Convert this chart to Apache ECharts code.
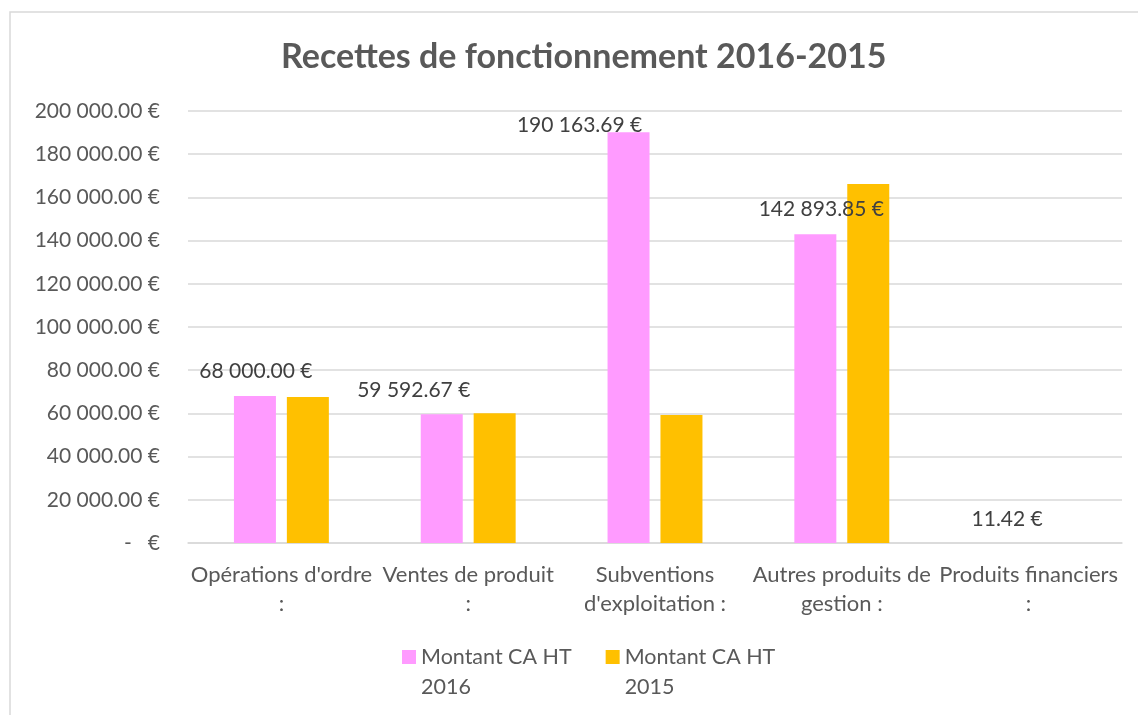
<!DOCTYPE html>
<html>
<head>
<meta charset="utf-8">
<script src="https://cdn.jsdelivr.net/npm/echarts@6/dist/echarts.min.js"></script>
<style>
  html, body { margin: 0; padding: 0; background: #fff; }
  #chart { width: 1138px; height: 715px; }
</style>
</head>
<body>
<div id="chart"></div>

<script>
  // données
  var categories = [
    "Opérations d'ordre\n:",
    "Ventes de produit\n:",
    "Subventions\nd'exploitation :",
    "Autres produits de\ngestion :",
    "Produits financiers\n:"
  ];
  var seriesNames = ["Montant CA HT 2016", "Montant CA HT 2015"];
  var values2016 = [68000.00, 59592.67, 190163.69, 142893.85, 11.42];
  var values2015 = [67600, 60100, 59300, 166200, 0];
  // décalage des étiquettes (déplacées à la main dans l'original)
  var labelOffsets = [[1, -9], [-28, -9], [-49, 8], [6, -10], [5, -8]];

  var App = {};

  App.init = function(){
    var _this = this;
    var font = "Lato";
    var grey = "#595959";

    // format comptable : 200 000.00 €
    _this.F_euro = function(v){
      if (v === 0) return "-   €";
      var s = v.toFixed(2).split(".");
      s[0] = s[0].replace(/\B(?=(\d{3})+(?!\d))/g, " ");
      return s[0] + "." + s[1] + " €";
    };

    _this.F_loadChart = function(){
      var chart = echarts.init(document.getElementById("chart"));

      var data2016 = values2016.map(function(v, i){
        return {
          value: v,
          label: { offset: labelOffsets[i] }
        };
      });

      var option = {
        animation: false,
        textStyle: { fontFamily: font },
        title: {
          text: "Recettes de fonctionnement 2016-2015",
          left: 276,
          top: 35,
          textStyle: { fontFamily: font, fontSize: 34, fontWeight: "bold", color: grey }
        },
        graphic: [{
          type: "rect",
          shape: { x: 10, y: 12, width: 1160, height: 740 },
          style: { fill: null, stroke: "#d9d9d9", lineWidth: 1.5 },
          silent: true
        }],
        grid: { left: 188, right: 16, top: 111, bottom: 172 },
        legend: {
          left: 397,
          top: 637,
          itemGap: 34,
          itemWidth: 14,
          itemHeight: 44,
          icon: "path://M0,0h14v14h-14zM0,43.99h0.01v0.01h-0.01z",
          formatter: function(name){
            return name.replace(/ (\d{4})$/, "\n$1");
          },
          textStyle: { fontFamily: font, fontSize: 21.5, color: grey, lineHeight: 30 },
          data: seriesNames
        },
        xAxis: {
          type: "category",
          data: categories,
          axisTick: { show: false },
          axisLine: { lineStyle: { color: "#d9d9d9", width: 1.5 } },
          axisLabel: {
            fontFamily: font, fontSize: 22, color: grey,
            lineHeight: 29, margin: 17, interval: 0
          }
        },
        yAxis: {
          type: "value",
          min: 0,
          max: 200000,
          interval: 20000,
          axisLine: { show: false },
          axisTick: { show: false },
          splitLine: { lineStyle: { color: "#d9d9d9", width: 1.5 } },
          axisLabel: {
            fontFamily: font, fontSize: 21, color: grey, margin: 28,
            formatter: _this.F_euro
          }
        },
        series: [{
          name: seriesNames[0],
          type: "bar",
          barWidth: 42,
          barGap: "26%",
          itemStyle: { color: "#ff9bff" },
          label: {
            show: true,
            position: "top",
            fontFamily: font,
            fontSize: 21,
            color: "#404040",
            formatter: function(p){ return _this.F_euro(p.value); }
          },
          data: data2016
        }, {
          name: seriesNames[1],
          type: "bar",
          barWidth: 42,
          itemStyle: { color: "#ffc000" },
          data: values2015
        }]
      };

      chart.setOption(option);
    };

    _this.F_loadChart();
  };

  App.init();
</script>
</body>
</html>
